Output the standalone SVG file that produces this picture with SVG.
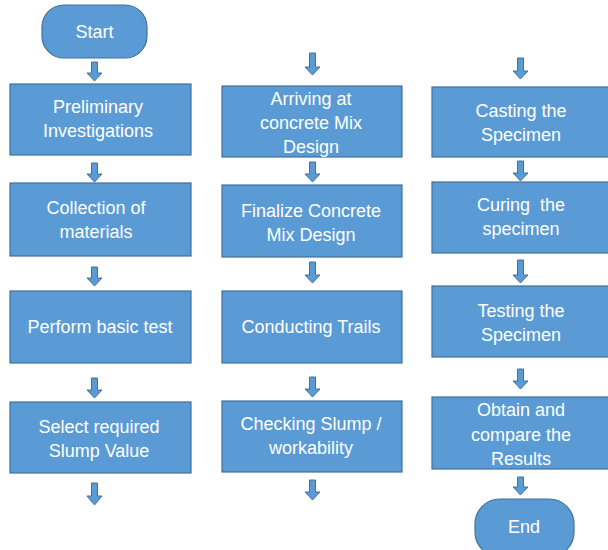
<svg xmlns="http://www.w3.org/2000/svg" width="608" height="550" viewBox="0 0 608 550">
<style>
.box{fill:#5B9BD5;stroke:#41719C;stroke-width:1.2}
.arr{fill:#5B9BD5;stroke:#41719C;stroke-width:1}
.t{fill:#FFFFFF;font-family:"Liberation Sans",Arial,sans-serif;font-size:18px;text-anchor:middle}
</style>
<rect width="608" height="550" fill="#FFFFFF"/>
<g id="connectors">
<path class="arr" d="M91.5,62H97.5V73H102L94.5,81L87,73H91.5Z"/>
<path class="arr" d="M91.5,163H97.5V174H102L94.5,182L87,174H91.5Z"/>
<path class="arr" d="M91.5,267H97.5V278H102L94.5,286L87,278H91.5Z"/>
<path class="arr" d="M91.5,378H97.5V390H102L94.5,398L87,390H91.5Z"/>
<path class="arr" d="M91.5,483H97.5V496H102L94.5,505L87,496H91.5Z"/>
<path class="arr" d="M309.5,53H315.5V67H320L312.5,75L305,67H309.5Z"/>
<path class="arr" d="M309.5,162H315.5V174H320L312.5,182L305,174H309.5Z"/>
<path class="arr" d="M309.5,262H315.5V275H320L312.5,283L305,275H309.5Z"/>
<path class="arr" d="M309.5,377H315.5V389H320L312.5,397L305,389H309.5Z"/>
<path class="arr" d="M309.5,480H315.5V492H320L312.5,500L305,492H309.5Z"/>
<path class="arr" d="M517.5,58H523.5V71H528L520.5,79L513,71H517.5Z"/>
<path class="arr" d="M517.5,161H523.5V173H528L520.5,181L513,173H517.5Z"/>
<path class="arr" d="M517.5,260H523.5V275H528L520.5,283L513,275H517.5Z"/>
<path class="arr" d="M517.5,369H523.5V381H528L520.5,389L513,381H517.5Z"/>
<path class="arr" d="M517.5,477H523.5V487H528L520.5,495L513,487H517.5Z"/>
</g>
<g id="start"><rect class="box" x="42" y="5" width="105" height="53" rx="22"/><text class="t" x="94.5" y="38">Start</text></g>
<g id="prelim"><rect class="box" x="10" y="84" width="181" height="71"/><text class="t" x="98" y="113">Preliminary</text><text class="t" x="98" y="137">Investigations</text></g>
<g id="collection"><rect class="box" x="10" y="183" width="181" height="73"/><text class="t" x="96" y="214">Collection of</text><text class="t" x="96" y="238">materials</text></g>
<g id="perform"><rect class="box" x="10" y="291" width="181" height="72"/><text class="t" x="100" y="333">Perform basic test</text></g>
<g id="select"><rect class="box" x="10" y="402" width="181" height="71"/><text class="t" x="99" y="433">Select required</text><text class="t" x="99" y="457">Slump Value</text></g>
<g id="arriving"><rect class="box" x="222" y="86" width="180" height="71"/><text class="t" x="311" y="105">Arriving at</text><text class="t" x="311" y="129">concrete Mix</text><text class="t" x="311" y="153">Design</text></g>
<g id="finalize"><rect class="box" x="222" y="185" width="180" height="72"/><text class="t" x="311" y="217">Finalize Concrete</text><text class="t" x="311" y="241">Mix Design</text></g>
<g id="conducting"><rect class="box" x="222" y="291" width="180" height="72"/><text class="t" x="311" y="333">Conducting Trails</text></g>
<g id="checking"><rect class="box" x="222" y="401" width="180" height="71"/><text class="t" x="311" y="430">Checking Slump /</text><text class="t" x="311" y="454">workability</text></g>
<g id="casting"><rect class="box" x="432" y="87" width="180" height="70"/><text class="t" x="521" y="117">Casting the</text><text class="t" x="521" y="141">Specimen</text></g>
<g id="curing"><rect class="box" x="432" y="182" width="180" height="71"/><text class="t" x="521" y="211" xml:space="preserve">Curing  the</text><text class="t" x="521" y="235">specimen</text></g>
<g id="testing"><rect class="box" x="432" y="286" width="180" height="71"/><text class="t" x="521" y="317">Testing the</text><text class="t" x="521" y="341">Specimen</text></g>
<g id="obtain"><rect class="box" x="432" y="397" width="180" height="72"/><text class="t" x="521" y="416">Obtain and</text><text class="t" x="521" y="441">compare the</text><text class="t" x="521" y="465">Results</text></g>
<g id="end"><rect class="box" x="475" y="499" width="99" height="58" rx="25"/><text class="t" x="524" y="533">End</text></g>
</svg>
